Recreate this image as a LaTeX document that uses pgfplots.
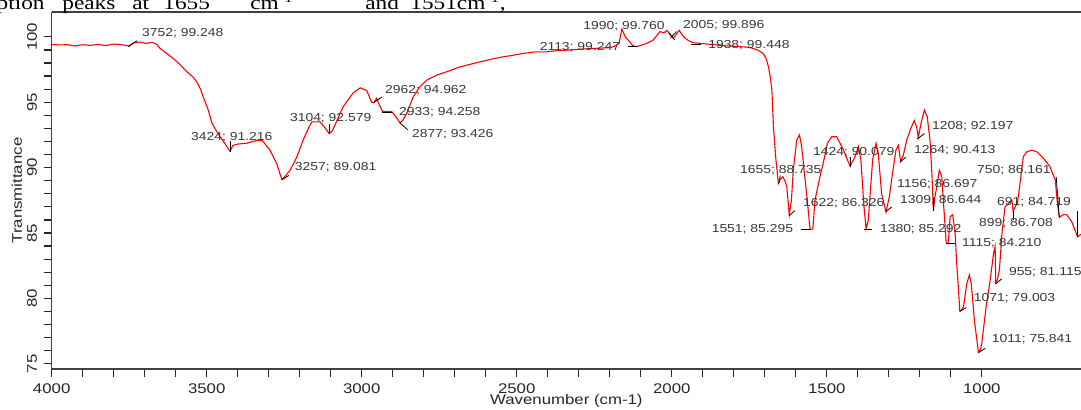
\documentclass[border=0pt]{standalone}
\usepackage{fontspec}
\setmainfont{Liberation Sans}[FakeStretch=1.2]
\newfontfamily\serifpaper{Liberation Serif}[FakeStretch=1.2]
\usepackage{pgfplots}
\pgfplotsset{compat=1.18}
\begin{document}
\begin{tikzpicture}
\begin{axis}[name=ax, scale only axis, width=514.65pt, height=178.5pt,
 xmin=680, xmax=4000, x dir=reverse, ymin=74.6, ymax=101.9,
 axis x line=box, axis y line=left, axis line style={-, black!75, line width=0.6pt},
 every outer x axis line/.append style={-}, every outer y axis line/.append style={-},
 xtick={1000,1500,2000,2500,3000,3500,4000}, minor x tick num=4,
 ytick={75,80,85,90,95,100}, minor y tick num=4,
 tick align=outside, xtick pos=bottom, ytick pos=left,
 major tick length=3.8pt, minor tick length=3.8pt,
 tick style={black!85, line width=0.6pt},
 /pgf/number format/assume math mode=true,
 /pgf/number format/set thousands separator={},
 ticklabel style={font=\fontsize{7}{8}\selectfont, text=black!85},
 yticklabel style={rotate=90, anchor=south},
 xlabel={Wavenumber (cm-1)}, ylabel={Transmittance},
 label style={font=\fontsize{7}{8}\selectfont, text=black!85},
 xlabel style={at={(axis description cs:0.5,-0.090)}, anchor=center},
 ylabel style={at={(axis description cs:-0.0338,0.5)}, anchor=center},
 every node/.append style={inner sep=0pt},
]
\addplot[red, line width=0.55pt] coordinates {
(4000,99.42)(3975,99.38)(3950,99.40)(3925,99.30)(3900,99.40)(3875,99.35)(3850,99.42)(3825,99.33)(3800,99.45)(3775,99.40)
(3752,99.30)(3735,99.55)(3715,99.60)(3695,99.50)(3675,99.58)(3660,99.40)(3650,99.10)(3630,98.75)(3608,98.35)(3585,97.85)
(3564,97.33)(3545,96.95)(3532,96.56)(3520,96.0)(3511,95.4)(3495,94.4)(3483,93.4)(3470,92.85)(3457,92.36)(3440,91.8)
(3425,91.25)(3415,91.7)(3400,91.8)(3370,91.87)(3350,92.0)(3338,92.1)(3320,92.05)(3296,91.34)(3274,90.3)(3262,89.4)
(3257,89.08)(3245,89.4)(3231,89.8)(3209,90.83)(3189,92.1)(3170,93.1)(3161,93.5)(3135,93.5)(3120,93.1)(3105,92.6)
(3095,92.8)(3060,94.65)(3028,95.7)(3005,96.1)(2984,95.9)(2968,95.0)(2962,94.96)(2952,95.3)(2945,94.9)(2933,94.3)
(2903,94.27)(2890,93.9)(2877,93.43)(2868,93.6)(2855,94.15)(2834,95.4)(2815,96.1)(2790,96.7)(2758,97.07)(2726,97.33)
(2683,97.7)(2650,97.9)(2618,98.09)(2580,98.3)(2544,98.47)(2510,98.6)(2479,98.73)(2440,98.85)(2403,98.85)(2370,98.95)
(2339,98.98)(2300,99.05)(2254,99.11)(2220,99.15)(2188,99.24)(2170,99.5)(2161,100.6)(2150,100.0)(2135,99.6)(2125,99.3)
(2113,99.25)(2100,99.35)(2081,99.5)(2060,99.75)(2045,100.2)(2038,100.4)(2025,100.3)(2016,100.5)(2005,100.2)(1995,99.9)
(1985,100.2)(1976,100.5)(1965,100.1)(1957,99.9)(1945,99.7)(1931,99.55)(1910,99.5)(1887,99.45)(1860,99.40)(1844,99.33)
(1810,99.3)(1780,99.25)(1750,99.2)(1737,99.11)(1720,98.95)(1705,98.73)(1695,98.3)(1688,97.7)(1682,96.9)(1677,95.93)
(1672,93.1)(1664,90.6)(1656,88.8)(1650,89.1)(1642,89.3)(1635,89.0)(1629,88.54)(1621,86.4)(1614,87.5)(1608,89.8)
(1597,92.1)(1588,92.5)(1581,91.6)(1573,89.8)(1565,88.0)(1554,85.3)(1545,85.3)(1538,87.5)(1522,89.3)(1509,90.6)
(1498,91.86)(1484,92.36)(1468,92.36)(1446,91.34)(1425,90.1)(1409,90.83)(1398,91.6)(1390,90.6)(1380,87.0)(1373,85.3)
(1366,86.0)(1352,90.6)(1341,91.86)(1334,91.1)(1323,88.0)(1309,86.6)(1298,87.8)(1288,89.56)(1277,91.34)(1269,91.7)
(1262,90.5)(1253,90.96)(1242,92.1)(1231,92.87)(1218,93.6)(1210,93.1)(1205,92.3)(1194,93.6)(1185,94.4)(1176,93.9)
(1167,92.1)(1161,89.56)(1156,86.7)(1151,87.8)(1145,88.54)(1137,89.8)(1129,89.3)(1124,87.5)(1115,84.3)(1108,84.3)
(1102,86.25)(1094,86.4)(1086,85.0)(1081,82.7)(1075,80.65)(1071,79.05)(1065,79.1)(1059,79.37)(1048,81.16)(1040,81.8)
(1034,81.16)(1024,78.36)(1011,75.9)(1004,76.1)(1000,76.58)(986,79.37)(973,81.4)(962,83.45)(957,83.96)(955,81.2)
(950,81.4)(943,82.2)(935,84.98)(925,87.0)(914,87.27)(903,87.5)(899,86.7)(890,87.1)(885,87.27)(874,89.3)
(866,90.83)(855,91.2)(839,91.34)(822,91.2)(801,90.7)(780,90.07)(763,89.05)(756,87.27)(750,86.2)(737,86.4)
(726,86.4)(710,85.87)(699,85.2)(691,84.72)(683,84.85)(680,84.9)
};
% peak annotations
\begin{scope}[font=\fontsize{5.8}{6.5}\selectfont, text=black!78]
\draw[black, line width=0.4pt] (axis cs:3752,99.248)--(axis cs:3725,99.7);
\node[anchor=west] at (axis cs:3731,100.28) {3752; 99.248};
\draw[black, line width=0.4pt] (axis cs:3424,91.216)--(axis cs:3424,92.0);
\node[anchor=west] at (axis cs:3573,92.34) {3424; 91.216};
\draw[black, line width=0.4pt] (axis cs:3257,89.081)--(axis cs:3235,89.4);
\node[anchor=west] at (axis cs:3238,90.0) {3257; 89.081};
\draw[black, line width=0.4pt] (axis cs:3104,92.579)--(axis cs:3104,93.3);
\node[anchor=west] at (axis cs:3254,93.79) {3104; 92.579};
\draw[black, line width=0.4pt] (axis cs:2962,94.962)--(axis cs:2935,95.4);
\node[anchor=west] at (axis cs:2947,95.93) {2962; 94.962};
\draw[black, line width=0.4pt] (axis cs:2933,94.258)--(axis cs:2903,94.258);
\node[anchor=west] at (axis cs:2902,94.25) {2933; 94.258};
\draw[black, line width=0.4pt] (axis cs:2877,93.426)--(axis cs:2852,92.9);
\node[anchor=west] at (axis cs:2860,92.57) {2877; 93.426};
\draw[black, line width=0.4pt] (axis cs:2113,99.247)--(axis cs:2142,99.247);
\node[anchor=east] at (axis cs:2144,99.24) {2113; 99.247};
\draw[black, line width=0.4pt] (axis cs:1990,99.76)--(axis cs:2010,100.3);
\node[anchor=west] at (axis cs:2308,100.82) {1990; 99.760};
\draw[black, line width=0.4pt] (axis cs:2005,99.896)--(axis cs:1985,100.4);
\node[anchor=west] at (axis cs:1986,100.89) {2005; 99.896};
\draw[black, line width=0.4pt] (axis cs:1938,99.448)--(axis cs:1907,99.448);
\node[anchor=west] at (axis cs:1905,99.37) {1938; 99.448};
\draw[black, line width=0.4pt] (axis cs:1655,88.735)--(axis cs:1650,89.4);
\node[anchor=west] at (axis cs:1802,89.82) {1655; 88.735};
\draw[black, line width=0.4pt] (axis cs:1622,86.326)--(axis cs:1603,86.7);
\node[anchor=west] at (axis cs:1599,87.29) {1622; 86.326};
\draw[black, line width=0.4pt] (axis cs:1551,85.295)--(axis cs:1584,85.295);
\node[anchor=east] at (axis cs:1586,85.29) {1551; 85.295};
\draw[black, line width=0.4pt] (axis cs:1424,90.079)--(axis cs:1424,90.8);
\node[anchor=west] at (axis cs:1567,91.19) {1424; 90.079};
\draw[black, line width=0.4pt] (axis cs:1380,85.292)--(axis cs:1353,85.292);
\node[anchor=west] at (axis cs:1351,85.29) {1380; 85.292};
\draw[black, line width=0.4pt] (axis cs:1309,86.644)--(axis cs:1290,87.0);
\node[anchor=west] at (axis cs:1286,87.52) {1309; 86.644};
\draw[black, line width=0.4pt] (axis cs:1264,90.413)--(axis cs:1245,90.8);
\node[anchor=west] at (axis cs:1241,91.34) {1264; 90.413};
\draw[black, line width=0.4pt] (axis cs:1208,92.197)--(axis cs:1185,92.6);
\node[anchor=west] at (axis cs:1183,93.18) {1208; 92.197};
\draw[black, line width=0.4pt] (axis cs:1156,86.697)--(axis cs:1156,87.7);
\node[anchor=west] at (axis cs:1296,88.75) {1156; 86.697};
\draw[black, line width=0.4pt] (axis cs:1115,84.21)--(axis cs:1088,84.21);
\node[anchor=west] at (axis cs:1086,84.22) {1115; 84.210};
\draw[black, line width=0.4pt] (axis cs:1071,79.003)--(axis cs:1050,79.3);
\node[anchor=west] at (axis cs:1048,80.04) {1071; 79.003};
\draw[black, line width=0.4pt] (axis cs:1011,75.841)--(axis cs:988,76.2);
\node[anchor=west] at (axis cs:990,76.9) {1011; 75.841};
\draw[black, line width=0.4pt] (axis cs:955,81.115)--(axis cs:935,81.5);
\node[anchor=west] at (axis cs:935,82.0) {955; 81.115};
\draw[black, line width=0.4pt] (axis cs:899,86.708)--(axis cs:899,86.0);
\node[anchor=west] at (axis cs:1031,85.77) {899; 86.708};
\draw[black, line width=0.4pt] (axis cs:750,86.161)--(axis cs:760,89.3);
\node[anchor=west] at (axis cs:1038,89.82) {750; 86.161};
\draw[black, line width=0.4pt] (axis cs:691,84.719)--(axis cs:691,86.7);
\node[anchor=west] at (axis cs:973,87.37) {691; 84.719};
\end{scope}
\end{axis}
% cut-off line of the surrounding paper text
\begin{scope}[every node/.style={inner sep=0pt, font=\serifpaper\fontsize{9.7}{11}\selectfont}]
\node[anchor=base east] at ([shift={(-3.35pt,1pt)}]ax.north west) {orption};
\node[anchor=base west] at ([shift={(5.15pt,1pt)}]ax.north west) {peaks};
\node[anchor=base west] at ([shift={(40.15pt,1pt)}]ax.north west) {at};
\node[anchor=base west] at ([shift={(55.65pt,1pt)}]ax.north west) {1655};
\node[anchor=base west] at ([shift={(99.15pt,1pt)}]ax.north west) {cm\textsuperscript{-1}};
\node[anchor=base west] at ([shift={(156.65pt,1pt)}]ax.north west) {and};
\node[anchor=base west] at ([shift={(179.15pt,1pt)}]ax.north west) {1551cm\textsuperscript{-1},};
\end{scope}
\pgfresetboundingbox
\path ([shift={(-25.85pt,-20pt)}]ax.south west) rectangle ([shift={(0pt,6pt)}]ax.north east);
\end{tikzpicture}
\end{document}
